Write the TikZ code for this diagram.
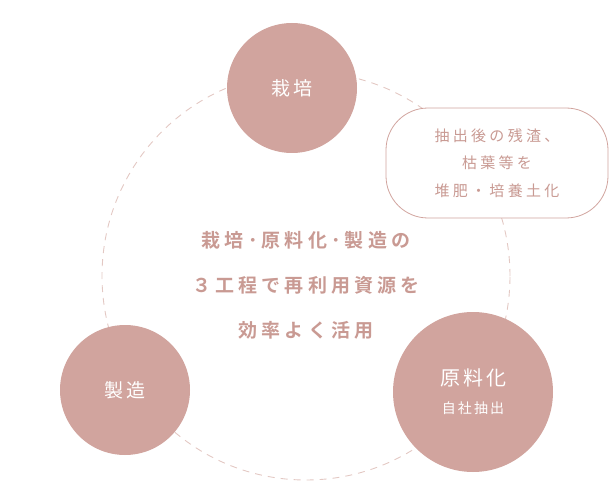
\documentclass[tikz,border=0pt]{standalone}
\usepackage{fontspec}
\setmainfont{Noto Sans CJK JP}
\newfontfamily\jpbold[LetterSpace=22]{Noto Sans CJK JP Bold}
\newfontfamily\jpsp[LetterSpace=15]{Noto Sans CJK JP}
\newfontfamily\jpwide[LetterSpace=22]{Noto Sans CJK JP}
\definecolor{rose}{HTML}{D1A49E}
\definecolor{roseline}{HTML}{E3C8C3}
\definecolor{rosetext}{HTML}{C99A93}
\begin{document}
\begin{tikzpicture}[x=1pt,y=-1pt,
  stage/.style={circle,fill=rose,text=white,minimum size=#1,inner sep=0pt,align=center},
  bubble/.style={draw=rose,fill=white,rounded corners=42pt,minimum width=222pt,minimum height=110pt,line width=0.8pt,text=rosetext,align=center}]
\useasboundingbox (0,0) rectangle (616,500);
\node[circle,draw=roseline,dashed,dash pattern=on 7pt off 6pt,line width=0.9pt,minimum size=408pt,inner sep=0pt] (ring) at (306,276) {};
\node[stage=130pt,font=\jpsp\fontsize{19}{22}\selectfont] (a) at (292,88) {栽培};
\node[stage=130pt,font=\jpsp\fontsize{19}{22}\selectfont] (b) at (125,390) {製造};
\node[stage=160pt,font=\jpsp\fontsize{20}{24}\selectfont] (c) at (473,392) {原料化\\[4pt]{\fontsize{14}{16}\selectfont 自社抽出}};
\node[bubble,font=\jpwide\fontsize{15}{27.5}\selectfont] (d) at (497,163) {抽出後の残渣、\\ 枯葉等を\\ 堆肥・培養土化};
\node[text=rosetext,align=center,font=\jpbold\fontsize{19}{45}\selectfont] (t) at (306,285) {栽培･原料化･製造の\\ ３工程で再利用資源を\\ 効率よく活用};
\end{tikzpicture}
\end{document}
